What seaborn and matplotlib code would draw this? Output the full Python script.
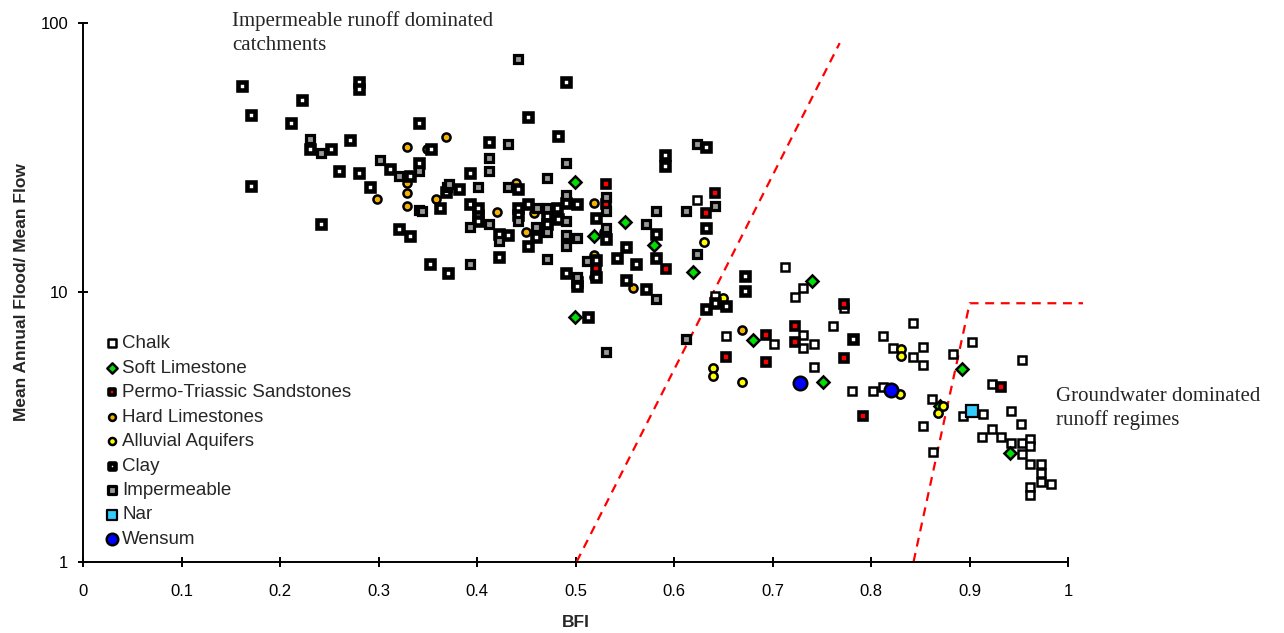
import numpy as np
import pandas as pd
import matplotlib
matplotlib.use("Agg")
import matplotlib.pyplot as plt
import seaborn as sns

sns.set_theme(style="white")
plt.rcParams['font.family'] = ['Liberation Sans', 'DejaVu Sans']

# --- data (BFI, mean annual flood / mean flow) ---
chalk_bfi = [0.623, 0.641, 0.653, 0.701, 0.712, 0.723, 0.731, 0.731, 0.731, 0.742, 0.742,
             0.761, 0.772, 0.781, 0.802, 0.812, 0.812, 0.822, 0.842, 0.842, 0.853, 0.853,
             0.853, 0.862, 0.863, 0.883, 0.902, 0.893, 0.913, 0.923, 0.953, 0.942, 0.952,
             0.912, 0.923, 0.932, 0.942, 0.953, 0.961, 0.961, 0.953, 0.961, 0.972, 0.972,
             0.972, 0.983, 0.961, 0.961]
chalk_ratio = [22.0, 9.7, 6.88, 6.42, 12.4, 9.62, 10.4, 6.19, 6.94, 6.40, 5.29,
               7.51, 8.72, 4.31, 4.31, 4.46, 6.85, 6.2, 7.70, 5.73, 6.28, 5.36,
               3.19, 4.00, 2.55, 5.88, 6.55, 3.47, 3.53, 4.56, 5.59, 3.63, 3.23,
               2.89, 3.11, 2.89, 2.76, 2.76, 2.85, 2.69, 2.52, 2.30, 2.30, 2.14,
               1.98, 1.94, 1.90, 1.77]

soft_lime_bfi = [0.499, 0.550, 0.519, 0.580, 0.619, 0.499, 0.680, 0.740, 0.751, 0.870, 0.892, 0.941]
soft_lime_ratio = [25.7, 18.2, 16.2, 15.0, 11.9, 8.07, 6.64, 11.0, 4.65, 3.78, 5.18, 2.53]

permo_bfi = [0.531, 0.531, 0.641, 0.632, 0.592, 0.521, 0.693, 0.693, 0.723, 0.723,
             0.772, 0.772, 0.792, 0.932, 0.653]
permo_ratio = [25.1, 21.2, 23.4, 19.6, 12.2, 12.3, 6.94, 5.52, 7.51, 6.55,
               9.05, 5.72, 3.46, 4.44, 5.76]

hard_lime_bfi = [0.329, 0.368, 0.298, 0.329, 0.329, 0.329, 0.358, 0.420, 0.439, 0.458,
                 0.450, 0.519, 0.529, 0.412, 0.349, 0.669, 0.558, 0.519, 0.519]
hard_lime_ratio = [34.5, 37.6, 22.2, 25.5, 23.4, 20.9, 22.2, 19.8, 25.5, 19.6,
                   16.7, 21.5, 16.7, 17.9, 33.9, 7.24, 10.4, 13.7, 11.4]

alluvial_bfi = [0.630, 0.650, 0.639, 0.639, 0.669, 0.829, 0.830, 0.830, 0.873, 0.868]
alluvial_ratio = [15.4, 9.49, 5.23, 4.87, 4.65, 4.18, 6.13, 5.80, 3.78, 3.55]

clay_bfi = [0.161, 0.280, 0.280, 0.222, 0.170, 0.211, 0.341, 0.271, 0.230, 0.252,
            0.311, 0.332, 0.341, 0.260, 0.280, 0.291, 0.170, 0.362, 0.241, 0.321,
            0.332, 0.352, 0.370, 0.353, 0.490, 0.452, 0.482, 0.412, 0.393, 0.382,
            0.368, 0.441, 0.591, 0.591, 0.632, 0.632, 0.582, 0.490, 0.501, 0.481,
            0.452, 0.441, 0.441, 0.401, 0.393, 0.401, 0.401, 0.471, 0.471, 0.482,
            0.521, 0.422, 0.431, 0.460, 0.531, 0.452, 0.551, 0.542, 0.521, 0.521,
            0.551, 0.561, 0.571, 0.582, 0.422, 0.490, 0.501, 0.501, 0.512, 0.641,
            0.632, 0.653, 0.672, 0.672, 0.782]
clay_ratio = [58.4, 60.4, 56.6, 51.7, 45.5, 42.6, 42.6, 36.7, 33.9, 33.9,
              28.6, 27.0, 30.2, 28.2, 27.6, 24.6, 24.8, 20.5, 17.9, 17.2,
              16.1, 12.7, 11.8, 33.9, 60.4, 44.6, 38.0, 36.2, 27.6, 24.1,
              23.6, 24.1, 32.3, 29.5, 34.7, 17.3, 16.5, 21.4, 21.2, 20.5,
              21.2, 20.5, 19.3, 19.3, 21.2, 20.5, 18.3, 19.1, 17.9, 18.7,
              18.9, 16.5, 16.3, 16.0, 15.8, 14.9, 14.7, 13.4, 13.2, 11.4,
              11.1, 12.7, 10.3, 13.4, 13.5, 11.8, 10.9, 10.5, 8.07, 9.10,
              8.65, 8.91, 11.5, 10.1, 6.70]

imperm_bfi = [0.230, 0.241, 0.301, 0.321, 0.341, 0.369, 0.341, 0.441, 0.431, 0.412,
              0.412, 0.371, 0.401, 0.431, 0.471, 0.490, 0.531, 0.531, 0.490, 0.461,
              0.471, 0.441, 0.393, 0.412, 0.344, 0.460, 0.471, 0.490, 0.490, 0.490,
              0.501, 0.531, 0.571, 0.582, 0.612, 0.641, 0.623, 0.623, 0.422, 0.511,
              0.393, 0.471, 0.501, 0.582, 0.531, 0.612]
imperm_ratio = [37.1, 32.9, 30.9, 27.0, 28.2, 24.6, 20.1, 73.5, 35.4, 31.6,
                28.2, 25.1, 24.6, 24.6, 26.5, 30.2, 22.6, 20.0, 22.9, 20.5,
                20.5, 18.3, 17.5, 17.9, 20.0, 17.5, 16.7, 18.3, 16.3, 14.9,
                15.9, 17.3, 17.9, 20.0, 20.0, 20.9, 35.4, 13.9, 15.5, 13.0,
                12.7, 13.3, 11.4, 9.43, 6.00, 6.70]

nar_bfi = [0.902]
nar_ratio = [3.62]
wensum_bfi = [0.728, 0.820]
wensum_ratio = [4.60, 4.34]

# boundary lines
imperm_line_bfi = [0.501, 0.768]
imperm_line_ratio = [1.0, 84.0]
gw_line_bfi = [0.843, 0.900, 1.015]
gw_line_ratio = [1.0, 9.1, 9.1]

sq = dict(marker="s", joinstyle="miter", edgecolor="black")
rnd = dict(marker="o", edgecolor="black")
groups = [
    ("Chalk", chalk_bfi, chalk_ratio, dict(sq, s=40, color="white", linewidth=1.8)),
    ("Soft Limestone", soft_lime_bfi, soft_lime_ratio,
     dict(marker="D", joinstyle="miter", edgecolor="black", s=38, color="#00E000", linewidth=1.8)),
    ("Permo-Triassic Sandstones", permo_bfi, permo_ratio, dict(sq, s=34, color="#FF0000", linewidth=2.6)),
    ("Hard Limestones", hard_lime_bfi, hard_lime_ratio, dict(rnd, s=34, color="#F2B200", linewidth=1.8)),
    ("Alluvial Aquifers", alluvial_bfi, alluvial_ratio, dict(rnd, s=36, color="#FFFF00", linewidth=1.8)),
    ("Clay", clay_bfi, clay_ratio, dict(sq, s=27, color="white", linewidth=3.3)),
    ("Impermeable", imperm_bfi, imperm_ratio, dict(sq, s=38, color="#999999", linewidth=2.3)),
    ("Nar", nar_bfi, nar_ratio, dict(sq, s=70, color="#33CCFF", linewidth=1.6)),
    ("Wensum", wensum_bfi, wensum_ratio, dict(rnd, s=95, color="#0000FF", linewidth=1.8)),
]

fig = plt.figure(figsize=(12.84, 6.33), dpi=100)
ax = fig.add_axes([83.2 / 1284, 1 - 561.7 / 633, 985 / 1284, 539 / 633])

for i, (name, bfi, ratio, style) in enumerate(groups):
    df = pd.DataFrame({"BFI": bfi, "ratio": ratio})
    sns.scatterplot(data=df, x="BFI", y="ratio", ax=ax, label=name, zorder=3 + i, **style)

ax.plot(imperm_line_bfi, imperm_line_ratio, color="red", lw=1.6, ls=(0, (4, 3)), clip_on=False, zorder=2)
ax.plot(gw_line_bfi, gw_line_ratio, color="red", lw=1.6, ls=(0, (4, 3)), clip_on=False, zorder=2)

ax.set_yscale("log")
ax.set_xlim(0, 1)
ax.set_ylim(1, 100)
ax.set_yticks([1, 10, 100])
ax.set_yticklabels(["1", "10", "100"])
ax.yaxis.set_minor_locator(matplotlib.ticker.NullLocator())
xt = np.round(np.arange(0, 1.01, 0.1), 1)
ax.set_xticks(xt)
ax.set_xticklabels(["%g" % v for v in xt])

for side in ["top", "right"]:
    ax.spines[side].set_visible(False)
for side in ["left", "bottom"]:
    ax.spines[side].set_color("black")
    ax.spines[side].set_linewidth(1.4)
ax.tick_params(axis="both", direction="inout", length=7.5, width=1.4, colors="black",
               labelsize=12, left=True, bottom=True)
ax.tick_params(axis="x", pad=12)
ax.tick_params(axis="y", pad=7)

ax.set_xlabel("BFI", fontsize=12.5, fontweight="bold", labelpad=12)
ax.set_ylabel("Mean Annual Flood/ Mean Flow", fontsize=12.5, fontweight="bold", labelpad=8)

ax.text(0.151, 110, "Impermeable runoff dominated\ncatchments", family="Liberation Serif",
        fontsize=15, va="top", ha="left", linespacing=1.3, clip_on=False)
ax.text(0.988, 4.45, "Groundwater dominated\nrunoff regimes", family="Liberation Serif",
        fontsize=15, va="top", ha="left", linespacing=1.3, clip_on=False)

ax.legend(loc="upper left", bbox_to_anchor=(0.012, 0.434), frameon=False, fontsize=13.5,
          labelspacing=0.39, handlelength=1.0, handletextpad=0.05, borderaxespad=0,
          markerscale=0.85)

fig.savefig("out.png", dpi=100)
